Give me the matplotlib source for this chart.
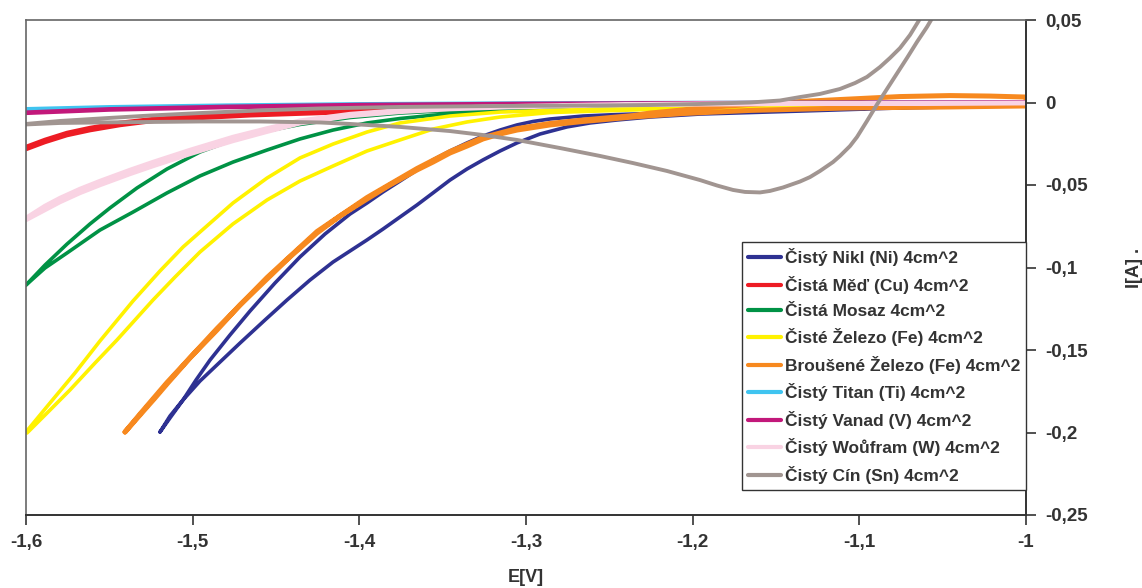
import matplotlib
matplotlib.use('Agg')
import matplotlib.pyplot as plt

plt.rcParams['font.family'] = ['Liberation Sans', 'DejaVu Sans']
plt.rcParams['font.weight'] = 'bold'

# cyclic sweeps: E [V] / I [A]
ni_e = [-1.5196, -1.5136, -1.5058, -1.4980, -1.4896, -1.4776, -1.4656, -1.4506, -1.4356,
        -1.4206, -1.4056, -1.3954, -1.3858, -1.3756, -1.3654, -1.3558, -1.3456, -1.3354,
        -1.3258, -1.3156, -1.3054, -1.2958, -1.2856, -1.2658, -1.2454, -1.2256, -1.1956,
        -1.1356, -1.0756, -1.0000,
        -1.0000, -1.0756, -1.1356, -1.1956, -1.2256, -1.2454, -1.2616, -1.2754, -1.2916,
        -1.3054, -1.3156, -1.3258, -1.3354, -1.3456, -1.3558, -1.3654, -1.3756, -1.3858,
        -1.3954, -1.4056, -1.4158, -1.4296, -1.4434, -1.4566, -1.4716, -1.4836, -1.4956,
        -1.5058, -1.5136, -1.5196]
ni_i = [-0.1997, -0.1912, -0.1803, -0.1682, -0.1561, -0.1409, -0.1264, -0.1094, -0.0936,
        -0.0797, -0.0676, -0.0609, -0.0542, -0.0476, -0.0409, -0.0348, -0.0294, -0.0245,
        -0.0203, -0.0167, -0.0136, -0.0115, -0.0100, -0.0082, -0.0073, -0.0067, -0.0061,
        -0.0045, -0.0030, -0.0015,
        -0.0018, -0.0033, -0.0052, -0.0070, -0.0088, -0.0106, -0.0124, -0.0148, -0.0191,
        -0.0245, -0.0294, -0.0348, -0.0403, -0.0470, -0.0548, -0.0621, -0.0694, -0.0767,
        -0.0833, -0.0900, -0.0967, -0.1076, -0.1197, -0.1318, -0.1458, -0.1573, -0.1688,
        -0.1803, -0.1900, -0.1997]

cu_e = [-1.6000, -1.5886, -1.5754, -1.5616, -1.5436, -1.5238, -1.4956, -1.4656, -1.4356,
        -1.3954, -1.3456, -1.2856, -1.1956, -1.1056, -1.0000]
cu_i_fwd = [-0.0267, -0.0224, -0.0182, -0.0152, -0.0121, -0.0098, -0.0080, -0.0066, -0.0058,
            -0.0047, -0.0035, -0.0024, -0.0013, -0.0008, -0.0002]
cu_i_back = [-0.0285, -0.0242, -0.0200, -0.0170, -0.0139, -0.0114, -0.0096, -0.0080, -0.0070,
             -0.0057, -0.0043, -0.0030, -0.0017, -0.0010, -0.0004]

brass_e_fwd = [-1.6000, -1.5886, -1.5754, -1.5616, -1.5496, -1.5334, -1.5154, -1.4956, -1.4758,
               -1.4554, -1.4356, -1.4056, -1.3756, -1.3456, -1.3156, -1.2556, -1.1956, -1.1056,
               -1.0000]
brass_i_fwd = [-0.1106, -0.0985, -0.0858, -0.0736, -0.0639, -0.0518, -0.0403, -0.0300, -0.0227,
               -0.0173, -0.0133, -0.0091, -0.0064, -0.0048, -0.0039, -0.0027, -0.0021, -0.0015,
               -0.0009]
brass_e_back = [-1.0000, -1.1056, -1.1956, -1.2556, -1.3156, -1.3456, -1.3756, -1.3954, -1.4158,
                -1.4356, -1.4554, -1.4758, -1.4956, -1.5154, -1.5358, -1.5556, -1.5754, -1.5886,
                -1.6000]
brass_i_back = [-0.0015, -0.0021, -0.0027, -0.0036, -0.0052, -0.0067, -0.0097, -0.0124, -0.0167,
                -0.0221, -0.0288, -0.0361, -0.0445, -0.0548, -0.0664, -0.0773, -0.0912, -0.1003,
                -0.1106]

fe_e_fwd = [-1.6000, -1.5856, -1.5706, -1.5556, -1.5358, -1.5196, -1.5058, -1.4956, -1.4758,
            -1.4554, -1.4356, -1.4158, -1.3954, -1.3756, -1.3456, -1.3156, -1.2658, -1.1956,
            -1.1056, -1.0000]
fe_i_fwd = [-0.1997, -0.1821, -0.1639, -0.1445, -0.1203, -0.1021, -0.0876, -0.0785, -0.0609,
            -0.0458, -0.0336, -0.0252, -0.0179, -0.0124, -0.0082, -0.0058, -0.0042, -0.0030,
            -0.0021, -0.0015]
fe_e_back = [-1.0000, -1.1056, -1.2256, -1.2856, -1.3156, -1.3354, -1.3558, -1.3756, -1.3954,
             -1.4158, -1.4356, -1.4554, -1.4758, -1.4956, -1.5106, -1.5238, -1.5346, -1.5454,
             -1.5586, -1.5736, -1.5856, -1.5994]
fe_i_back = [-0.0021, -0.0027, -0.0042, -0.0061, -0.0088, -0.0118, -0.0161, -0.0227, -0.0294,
             -0.0385, -0.0476, -0.0591, -0.0736, -0.0906, -0.1058, -0.1197, -0.1318, -0.1439,
             -0.1579, -0.1742, -0.1864, -0.2003]

fe2_e_fwd = [-1.5406, -1.5316, -1.5226, -1.5154, -1.5016, -1.4854, -1.4716, -1.4554, -1.4416,
             -1.4254, -1.4116, -1.3954, -1.3816, -1.3654, -1.3558, -1.3456, -1.3354, -1.3258,
             -1.3156, -1.3054, -1.2856, -1.2658, -1.2358, -1.2058, -1.1656, -1.1056, -1.0456,
             -1.0000]
fe2_i_fwd = [-0.1997, -0.1894, -0.1791, -0.1706, -0.1548, -0.1379, -0.1227, -0.1070, -0.0936,
             -0.0791, -0.0688, -0.0585, -0.0500, -0.0409, -0.0361, -0.0306, -0.0264, -0.0221,
             -0.0191, -0.0167, -0.0136, -0.0115, -0.0088, -0.0067, -0.0048, -0.0033, -0.0027,
             -0.0021]
fe2_e_back = [-1.0000, -1.0216, -1.0456, -1.0756, -1.1056, -1.1356, -1.1656, -1.1956, -1.2058,
              -1.2256, -1.2358, -1.2658, -1.2856, -1.3054, -1.3258, -1.3456, -1.3654, -1.3954,
              -1.4254, -1.4554, -1.4854, -1.5154, -1.5316, -1.5406]
fe2_i_back = [0.0033, 0.0039, 0.0042, 0.0036, 0.0021, 0.0006, -0.0012, -0.0033, -0.0045,
              -0.0064, -0.0079, -0.0106, -0.0127, -0.0158, -0.0212, -0.0297, -0.0400, -0.0576,
              -0.0782, -0.1061, -0.1370, -0.1697, -0.1888, -0.1997]

ti_e = [-1.600, -1.550, -1.480, -1.400, -1.300, -1.200, -1.000]
ti_i = [-0.0040, -0.0028, -0.0018, -0.0010, -0.0005, -0.0002, 0.0]

v_e = [-1.600, -1.550, -1.480, -1.400, -1.300, -1.200, -1.100, -1.000]
v_i = [-0.0062, -0.0042, -0.0027, -0.0016, -0.0009, -0.0005, -0.0002, 0.0]

w_e = [-1.6000, -1.5886, -1.5796, -1.5676, -1.5556, -1.5376, -1.5238, -1.5016, -1.4758, -1.4554,
       -1.4356, -1.4056, -1.3756, -1.3456, -1.3156, -1.2556, -1.1956, -1.1056, -1.0000]
w_i_fwd = [-0.0700, -0.0627, -0.0579, -0.0524, -0.0476, -0.0409, -0.0361, -0.0288, -0.0209,
           -0.0157, -0.0110, -0.0070, -0.0047, -0.0032, -0.0024, -0.0013, -0.0007, -0.0005,
           -0.0002]
w_i_back = [-0.0712, -0.0651, -0.0603, -0.0548, -0.0500, -0.0433, -0.0385, -0.0312, -0.0233,
            -0.0177, -0.0126, -0.0082, -0.0057, -0.0040, -0.0030, -0.0017, -0.0011, -0.0007,
            -0.0004]

sn_e = [-1.6000, -1.5796, -1.5556, -1.5256, -1.4956, -1.4596, -1.4236, -1.3756, -1.3156, -1.2556,
        -1.2256, -1.1956, -1.1656, -1.1476, -1.1356, -1.1236, -1.1116, -1.1026, -1.0954, -1.0876,
        -1.0816, -1.0756, -1.0696, -1.0648, -1.0612, -1.0588,
        -1.0516, -1.0594, -1.0654, -1.0714, -1.0774, -1.0834, -1.0894, -1.0954, -1.1014, -1.1056,
        -1.1116, -1.1158, -1.1236, -1.1296, -1.1356, -1.1458, -1.1536, -1.1596, -1.1686, -1.1758,
        -1.1854, -1.1956, -1.2154, -1.2358, -1.2556, -1.2796, -1.3054, -1.3258, -1.3456, -1.3756,
        -1.4056, -1.4236, -1.4596, -1.4956, -1.5256, -1.5556, -1.5796, -1.6000]
sn_i = [-0.0130, -0.0112, -0.0097, -0.0079, -0.0064, -0.0048, -0.0036, -0.0027, -0.0021, -0.0018,
        -0.0015, -0.0009, 0.0000, 0.0012, 0.0033, 0.0052, 0.0082, 0.0118, 0.0155, 0.0215,
        0.0270, 0.0330, 0.0409, 0.0488, 0.0548, 0.0591,
        0.0591, 0.0458, 0.0367, 0.0270, 0.0176, 0.0082, -0.0012, -0.0112, -0.0209, -0.0264,
        -0.0324, -0.0361, -0.0415, -0.0452, -0.0479, -0.0515, -0.0536, -0.0545, -0.0542, -0.0530,
        -0.0503, -0.0470, -0.0415, -0.0367, -0.0324, -0.0276, -0.0227, -0.0197, -0.0173, -0.0148,
        -0.0130, -0.0121, -0.0115, -0.0115, -0.0118, -0.0121, -0.0124, -0.0133]

series = [
    (ni_e, ni_i, '#2E3192', 2.6, 'Čistý Nikl (Ni) 4cm^2'),
    (cu_e + cu_e[::-1], cu_i_fwd + cu_i_back[::-1], '#ED1C24', 2.6, 'Čistá Měď (Cu) 4cm^2'),
    (brass_e_fwd + brass_e_back, brass_i_fwd + brass_i_back, '#009245', 2.6, 'Čistá Mosaz 4cm^2'),
    (fe_e_fwd + fe_e_back, fe_i_fwd + fe_i_back, '#FFF200', 2.6, 'Čisté Železo (Fe) 4cm^2'),
    (fe2_e_fwd + fe2_e_back, fe2_i_fwd + fe2_i_back, '#F7891F', 3.6, 'Broušené Železo (Fe) 4cm^2'),
    (ti_e, ti_i, '#3FC4F0', 3.0, 'Čistý Titan (Ti) 4cm^2'),
    (v_e, v_i, '#C2187A', 3.4, 'Čistý Vanad (V) 4cm^2'),
    (w_e + w_e[::-1], w_i_fwd + w_i_back[::-1], '#F9D3E3', 3.2, 'Čistý Woůfram (W) 4cm^2'),
    (sn_e, sn_i, '#A19591', 2.8, 'Čistý Cín (Sn) 4cm^2'),
]

x_ticks = [-1.6, -1.5, -1.4, -1.3, -1.2, -1.1, -1.0]
x_labels = ['-1,6', '-1,5', '-1,4', '-1,3', '-1,2', '-1,1', '-1']
y_ticks = [0.05, 0.0, -0.05, -0.1, -0.15, -0.2, -0.25]
y_labels = ['0,05', '0', '-0,05', '-0,1', '-0,15', '-0,2', '-0,25']

fig = plt.figure(figsize=(11.42, 5.88), dpi=100)
ax = fig.add_axes([26 / 1142, 73 / 588, 1000 / 1142, 495 / 588])

for e, i, col, lw, lab in series:
    ax.plot(e, i, color=col, linewidth=lw, label=lab,
            solid_capstyle='round', solid_joinstyle='round')

ax.set_xlim(-1.6, -1.0)
ax.set_ylim(-0.25, 0.05)

ax.yaxis.tick_right()
ax.yaxis.set_label_position('right')
ax.set_xticks(x_ticks)
ax.set_xticklabels(x_labels)
ax.set_yticks(y_ticks)
ax.set_yticklabels(y_labels)
ax.tick_params(axis='both', direction='out', length=7, width=1.2,
               colors='#333333', labelsize=13.5, pad=7)

for side in ['left', 'top']:
    ax.spines[side].set_color('#666666')
    ax.spines[side].set_linewidth(1.2)
for side in ['right', 'bottom']:
    ax.spines[side].set_color('#333333')
    ax.spines[side].set_linewidth(1.4)

ax.set_xlabel('E[V]', fontsize=13, fontweight='bold', color='#333333', labelpad=13)
ax.set_ylabel('I[A] .', fontsize=13, fontweight='bold', color='#333333',
              labelpad=27, rotation=90)

leg = ax.legend(loc='lower right', bbox_to_anchor=(1.0, 25 / 495), borderaxespad=0,
                fontsize=12.5, labelspacing=0.55, handlelength=1.9, handletextpad=0.2,
                borderpad=0.35, fancybox=False, framealpha=1, edgecolor='#333333')
leg.get_frame().set_linewidth(1.0)
for t in leg.get_texts():
    t.set_color('#333333')
for h in leg.get_lines():
    h.set_linewidth(3.0)

fig.savefig('out.png', dpi=100)
